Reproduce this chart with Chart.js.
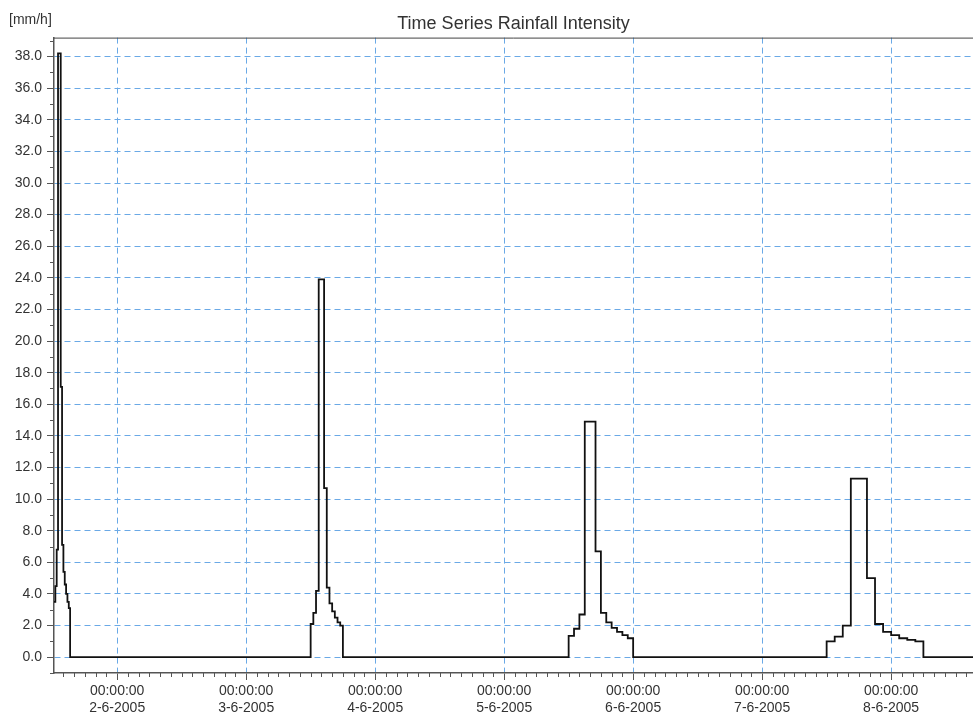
<!DOCTYPE html>
<html>
<head>
<meta charset="utf-8">
<title>Time Series Rainfall Intensity</title>
<script src="https://cdn.jsdelivr.net/npm/chart.js@4.4.1/dist/chart.umd.min.js"></script>
<style>
  html, body { margin: 0; padding: 0; background: #fff; }
  canvas { display: block; }
</style>
</head>
<body>
<canvas id="rainChart" width="973" height="719"></canvas>
<script>
// hours counted from 2-6-2005 00:00:00
const titleText = "Time Series Rainfall Intensity";
const unitLabel = "[mm/h]";
const timeLabel = "00:00:00";
const dayLabels = ["2-6-2005", "3-6-2005", "4-6-2005", "5-6-2005", "6-6-2005", "7-6-2005", "8-6-2005"];
const dayHours = [0, 24, 48, 72, 96, 120, 144];

// four storms, 12 steps each, values in mm/h
const stormStart = [-11.75, 36, 84, 132];
const stormStep = [0.25, 0.5, 1, 1.5];
const storm1 = [3.5, 4.5, 6.8, 38.2, 38.2, 17.1, 7.1, 5.4, 4.6, 4.0, 3.5, 3.1];
const storm2 = [2.1, 2.8, 4.2, 23.9, 23.9, 10.7, 4.4, 3.4, 2.9, 2.5, 2.2, 2.0];
const storm3 = [1.35, 1.8, 2.7, 14.9, 14.9, 6.7, 2.8, 2.2, 1.85, 1.6, 1.4, 1.2];
const storm4 = [1.0, 1.3, 2.0, 11.3, 11.3, 5.0, 2.1, 1.6, 1.4, 1.2, 1.1, 1.0];

const xMin = -11.75, xMax = 159.23;
const yMin = -1, yMax = 39.2;

const fontFamily = "'Liberation Sans', Arial, Helvetica, sans-serif";
const gridBlue = "#6aa9e6";
const axisGrey = "#555";
const clear = "rgba(0,0,0,0)";

function isMajorX(v) { return dayHours.indexOf(v) >= 0; }
function isMajorY(v) { return v >= 0 && v % 2 === 0; }

// build step series from the storms
const storms = [storm1, storm2, storm3, storm4];
const series = [];
storms.forEach(function (values, s) {
    values.forEach(function (v, i) {
        series.push({ x: stormStart[s] + i * stormStep[s], y: v });
    });
    series.push({ x: stormStart[s] + values.length * stormStep[s], y: 0 });
});
series.push({ x: xMax, y: 0 });

// white background, top frame line, unit label and the short minor ticks
const frame = {
    id: "frame",
    beforeDraw(chart) {
        const ctx = chart.ctx;
        ctx.save();
        ctx.fillStyle = "#fff";
        ctx.fillRect(0, 0, chart.width, chart.height);
        ctx.restore();
    },
    afterDraw(chart) {
        const { ctx, chartArea, scales } = chart;
        ctx.save();
        ctx.strokeStyle = "#444";
        ctx.lineWidth = 1;
        ctx.beginPath();
        ctx.moveTo(chartArea.left, chartArea.top + 0.5);
        ctx.lineTo(chartArea.right, chartArea.top + 0.5);
        ctx.stroke();

        ctx.strokeStyle = axisGrey;
        ctx.beginPath();
        scales.x.ticks.forEach(function (t) {
            if (isMajorX(t.value)) return;
            const px = Math.round(scales.x.getPixelForValue(t.value)) + 0.5;
            ctx.moveTo(px, chartArea.bottom);
            ctx.lineTo(px, chartArea.bottom + 4);
        });
        scales.y.ticks.forEach(function (t) {
            if (isMajorY(t.value)) return;
            const py = Math.round(scales.y.getPixelForValue(t.value)) + 0.5;
            ctx.moveTo(chartArea.left - 4, py);
            ctx.lineTo(chartArea.left, py);
        });
        ctx.stroke();

        ctx.fillStyle = "#333";
        ctx.font = "14px " + fontFamily;
        ctx.textBaseline = "middle";
        ctx.fillText(unitLabel, 9, 20);
        ctx.restore();
    },
};

new Chart(document.getElementById("rainChart"), {
    type: "line",
    data: {
        datasets: [
            {
                data: series,
                borderColor: "#111",
                borderWidth: 1.8,
                stepped: "before",
                pointRadius: 0,
                fill: false,
            },
        ],
    },
    options: {
        responsive: false,
        animation: false,
        layout: { padding: 0, autoPadding: false },
        plugins: {
            legend: { display: false },
            tooltip: { enabled: false },
            title: {
                display: true,
                text: titleText,
                fullSize: false,
                color: "#333",
                font: { family: fontFamily, size: 18, weight: "normal", lineHeight: 1.2 },
                padding: { top: 13, bottom: 3 },
            },
        },
        scales: {
            x: {
                type: "linear",
                min: xMin,
                max: xMax,
                afterBuildTicks: function (scale) {
                    const ticks = [];
                    for (let h = -10; h <= xMax; h += 2) ticks.push({ value: h });
                    scale.ticks = ticks;
                },
                afterFit: function (scale) {
                    scale.height = 46;
                },
                ticks: {
                    autoSkip: false,
                    maxRotation: 0,
                    minRotation: 0,
                    padding: 3,
                    color: "#333",
                    font: { family: fontFamily, size: 14, lineHeight: 1.2 },
                    callback: function (value) {
                        const i = dayHours.indexOf(value);
                        return i >= 0 ? [timeLabel, dayLabels[i]] : "";
                    },
                },
                grid: {
                    color: function (c) {
                        return c.tick && isMajorX(c.tick.value) ? gridBlue : clear;
                    },
                    lineWidth: 1,
                    tickColor: function (c) {
                        return c.tick && isMajorX(c.tick.value) ? axisGrey : clear;
                    },
                    tickLength: 7,
                    tickBorderDash: [],
                },
                border: { color: axisGrey, width: 1.5, dash: [6, 4] },
            },
            y: {
                type: "linear",
                min: yMin,
                max: yMax,
                afterBuildTicks: function (scale) {
                    const ticks = [];
                    for (let v = -1; v <= 39; v += 1) ticks.push({ value: v });
                    scale.ticks = ticks;
                },
                afterFit: function (scale) {
                    scale.width = 54;
                },
                ticks: {
                    autoSkip: false,
                    padding: 5,
                    color: "#333",
                    font: { family: fontFamily, size: 14 },
                    callback: function (value) {
                        return isMajorY(value) ? value.toFixed(1) : "";
                    },
                },
                grid: {
                    color: function (c) {
                        return c.tick && isMajorY(c.tick.value) ? gridBlue : clear;
                    },
                    lineWidth: 1,
                    tickColor: function (c) {
                        return c.tick && isMajorY(c.tick.value) ? axisGrey : clear;
                    },
                    tickLength: 7,
                    tickBorderDash: [],
                },
                border: { color: axisGrey, width: 1.5, dash: [6, 4] },
            },
        },
    },
    plugins: [frame],
});
</script>
</body>
</html>
